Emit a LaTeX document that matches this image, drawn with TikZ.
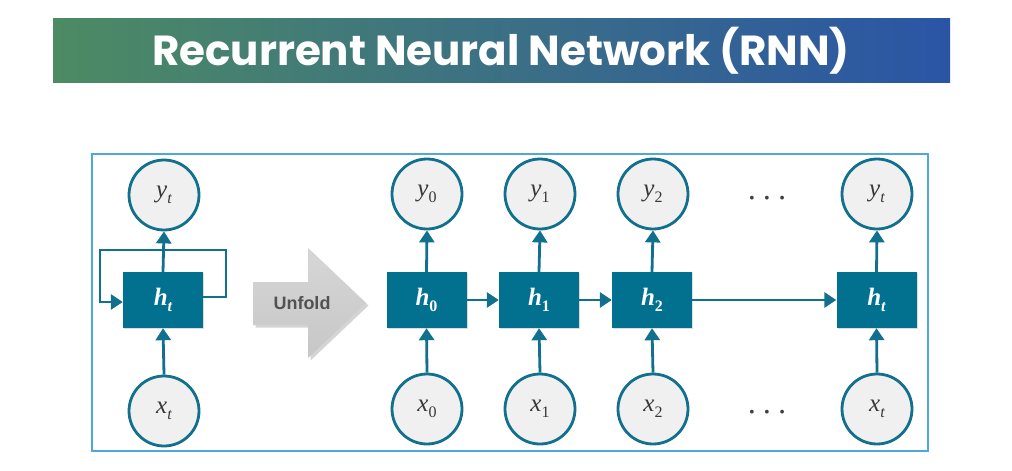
\documentclass[tikz,border=0pt]{standalone}
\usepackage{fontspec}
\usetikzlibrary{arrows.meta,shadows}
\newfontfamily\titlefont{Poppins}
\newfontfamily\labfont{Liberation Sans}
\newfontfamily\varfont{Liberation Serif}
\newcommand{\mvar}[2]{{\itshape #1}\raisebox{-0.22em}{\fontsize{16}{18}\selectfont #2}}
\definecolor{boxteal}{HTML}{02708F}
\definecolor{lineteal}{HTML}{12708F}
\definecolor{circfill}{HTML}{F0F0F0}
\definecolor{mathgray}{HTML}{383838}
\definecolor{framecol}{HTML}{4FA8D8}
\definecolor{bargreen}{HTML}{4C8B63}
\definecolor{barblue}{HTML}{2A55A6}
\tikzset{
  state/.style={circle, draw=lineteal, line width=2.8pt, fill=circfill, minimum size=70pt, inner sep=0pt, text=mathgray, font=\varfont\fontsize{25}{28}\selectfont},
  hidden/.style={rectangle, fill=boxteal, minimum width=80pt, minimum height=56pt, inner sep=0pt, text=white, font=\varfont\bfseries\fontsize{25}{28}\selectfont,
    drop shadow={shadow xshift=1.2pt, shadow yshift=-1.2pt, fill=black!22, opacity=0.6}},
  conn/.style={draw=lineteal, line width=2.8pt, -{Triangle[length=12pt,width=15pt]}},
  dotsnode/.style={text=black!75, font=\fontsize{14}{14}\selectfont, inner sep=0pt}
}
\begin{document}
\begin{tikzpicture}[x=1pt,y=-1pt]
\useasboundingbox (0,0) rectangle (1012,471);
\fill[white] (0,0) rectangle (1012,471);
% title banner
\shade[left color=bargreen, right color=barblue, middle color=bargreen!50!barblue] (53,18) rectangle (950,82);
\node[text=white, font=\titlefont\bfseries\fontsize{42}{46}\selectfont, inner sep=0pt] (title) at (501,51) {Recurrent Neural Network (RNN)};
% frame
\draw[framecol, line width=1.2pt] (92,154) rectangle (928,451);
% folded RNN
\node[state] (yt) at (164,195) {\mvar{y}{\itshape t}};
\node[hidden] (ht) at (163,300) {\mvar{h}{\itshape t}};
\node[state] (xt) at (164,411) {\mvar{x}{\itshape t}};
\coordinate (loopR) at (226,250);
\coordinate (loopL) at (100,250);
\draw[conn] (ht.north) -- (yt.south);
\draw[conn] (xt.north) -- (ht.south);
\draw[conn] ([yshift=3pt]ht.east) -| (loopR) -- (loopL) |- ([yshift=-2pt]ht.west);
% unfold arrow
\fill[black!30, opacity=0.55, xshift=2.5pt, yshift=-2.5pt] (253,282) -- (308,282) -- (308,248) -- (366,303) -- (308,358) -- (308,325) -- (253,325) -- cycle;
\shade[top color=black!16, bottom color=black!22] (253,282) -- (308,282) -- (308,248) -- (366,303) -- (308,358) -- (308,325) -- (253,325) -- cycle;
\node[text=black!68, font=\labfont\bfseries\fontsize{18}{20}\selectfont, inner sep=0pt] (unfold) at (302,303) {Unfold};
% unrolled
\node[state] (y0) at (427,194) {\mvar{y}{0}};
\node[hidden] (h0) at (426.5,300) {\mvar{h}{0}};
\node[state] (x0) at (427,409) {\mvar{x}{0}};
\node[state] (y1) at (540,194) {\mvar{y}{1}};
\node[hidden] (h1) at (539,300) {\mvar{h}{1}};
\node[state] (x1) at (540,409) {\mvar{x}{1}};
\node[state] (y2) at (653,194) {\mvar{y}{2}};
\node[hidden] (h2) at (652,300) {\mvar{h}{2}};
\node[state] (x2) at (653,409) {\mvar{x}{2}};
\node[state] (yT) at (877,194) {\mvar{y}{\itshape t}};
\node[hidden] (hT) at (876.5,300) {\mvar{h}{\itshape t}};
\node[state] (xT) at (877,409) {\mvar{x}{\itshape t}};
\node[dotsnode] (dtop) at (767,199) {\textbullet\hspace{4.5pt}\textbullet\hspace{4.5pt}\textbullet};
\node[dotsnode] (dbot) at (767,413) {\textbullet\hspace{4.5pt}\textbullet\hspace{4.5pt}\textbullet};
\foreach \i in {0,1,2,T}{
  \draw[conn] (h\i.north) -- (y\i.south);
  \draw[conn] (x\i.north) -- (h\i.south);
}
\draw[conn] (h0.east) -- (h1.west);
\draw[conn] (h1.east) -- (h2.west);
\draw[conn] (h2.east) -- (hT.west);
\end{tikzpicture}
\end{document}
